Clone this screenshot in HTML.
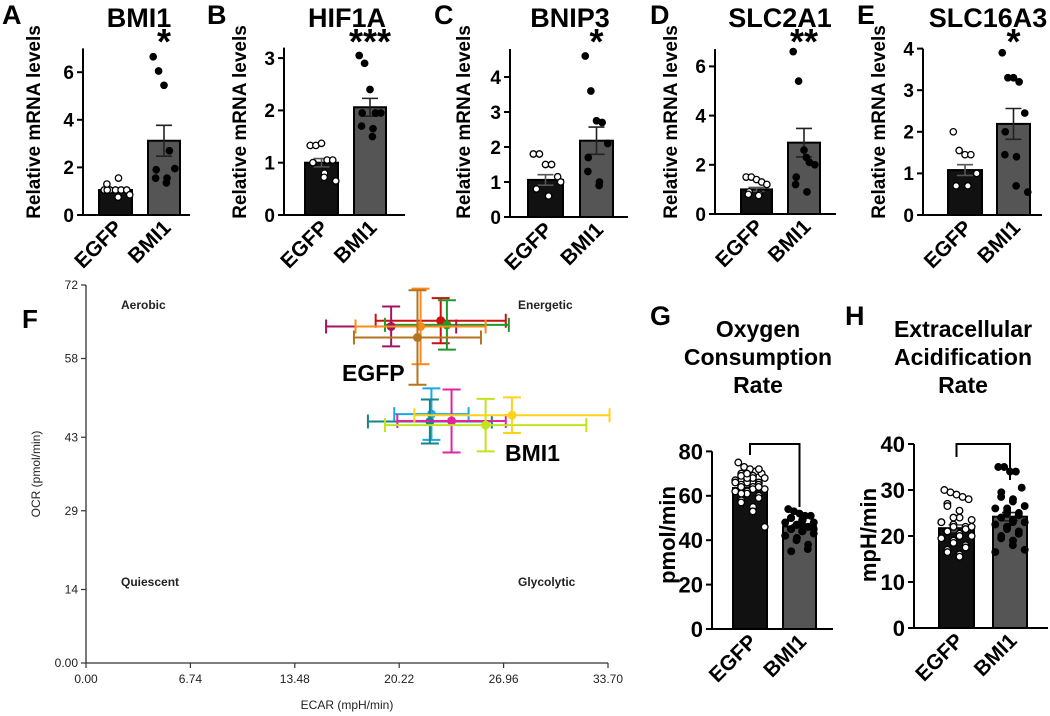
<!DOCTYPE html>
<html><head><meta charset="utf-8">
<style>
html,body{margin:0;padding:0;background:#fff;}
svg{display:block;font-family:"Liberation Sans",Arial,sans-serif;}
</style></head>
<body>
<svg id="fig" width="1050" height="716" viewBox="0 0 1050 716" xmlns="http://www.w3.org/2000/svg"></svg>
<script>
// ---------- Data: panels A-E ----------
const qpcrGroups = ["EGFP", "BMI1"];
const aMeans = [1.05, 3.12]; const aSem = [0.08, 0.65];
const aEGFP = [1.05,1.05,1.05,1.05,1.05,1.05,1.3,1.55,0.75,0.85];
const aBMI1 = [6.65,6.05,5.45,2.7,1.95,1.9,1.55,1.55,1.35];
const bMeans = [1.0, 2.06]; const bSem = [0.08, 0.17];
const bEGFP = [1.33,1.33,1.37,1.05,1.05,1.0,1.0,0.8,0.72,0.65];
const bBMI1 = [3.05,2.9,2.4,1.95,1.95,1.95,1.7,1.65,1.5];
const cMeans = [1.06, 2.18]; const cSem = [0.15, 0.39];
const cEGFP = [1.8,1.8,1.5,1.5,1.15,0.8,0.8,0.6,0.6,1.0];
const cBMI1 = [4.6,3.6,2.75,2.7,2.1,1.7,1.3,1.0,0.9];
const dMeans = [1.0, 2.9]; const dSem = [0.08, 0.58];
const dEGFP = [1.5,1.5,1.4,1.3,1.2,0.9,0.8,0.8,0.75];
const dBMI1 = [6.6,5.4,2.6,2.1,2.0,1.5,1.2,0.9,2.3];
const eMeans = [1.08, 2.19]; const eSem = [0.13, 0.37];
const eEGFP = [2.0,1.55,1.45,1.45,1.0,0.7,0.7,0.7,0.7];
const eBMI1 = [3.9,3.3,3.3,3.2,2.45,2.0,1.45,1.4,0.7,0.55];
const aTicks = [0,2,4,6]; const bTicks = [0,1,2,3]; const cTicks = [0,1,2,3,4];
const dTicks = [0,2,4,6]; const eTicks = [0,1,2,3,4];
// ---------- Data: panel F ----------
const fGroupLabels = ["EGFP","BMI1"];
const fECAR = [22.9,23.3,19.7,21.6,21.4, 22.3,22.2,23.6,25.8,27.5];
const fOCR  = [65.2,64.4,64.1,64.1,62.0, 47.4,46.0,46.1,45.3,47.2];
const fECARerr = [4.2,4.0,4.2,4.2,4.1, 2.4,4.0,3.5,6.5,6.3];
const fOCRerr  = [4.3,4.7,3.8,7.2,9.0, 4.9,4.2,6.0,5.0,3.4];
const fXTicks = ["0.00","6.74","13.48","20.22","26.96","33.70"];
const fYTicks = ["0.00","14","29","43","58","72"];
// ---------- Data: panels G, H ----------
const gMeans = [63.5, 46.2]; const gSem = [0.9, 0.8];
const gEGFP = [75,73,72,71,70,70,69,69,68,68,67,67,66,66,65,65,64,64,63,63,62,62,61,60,59,58,57,55,53,46,66,68,70,72,64,61];
const gBMI1 = [54,53,52,51,51,50,50,49,49,48,48,47,47,46,46,45,45,44,44,43,42,41,40,38,36,35,50,49,47,45];
const hMeans = [21.7, 24.2]; const hSem = [0.7, 0.9];
const hEGFP = [30,29.5,29,28.5,28,27,26.5,25.5,24,23.5,23,22.5,22,22,21.5,21,21,20.5,20,20,19.5,19,18.5,18,17.5,17,16.5,16,15.5,22,23,24];
const hBMI1 = [35,35,34,34,30.5,29.5,28.5,28,27.5,26.5,26,25.5,25,25,24.5,24,24,23.5,23,23,22.5,22,21.5,21,20.5,20,19.5,19,18,17,16.5,26,22];
const gTicks = [0,20,40,60,80]; const hTicks = [0,10,20,30,40];

const NS = "http://www.w3.org/2000/svg";
const svg = document.getElementById("fig");
function mk(tag, attrs, parent){
  const e = document.createElementNS(NS, tag);
  for (const k in attrs) e.setAttribute(k, attrs[k]);
  (parent||svg).appendChild(e);
  return e;
}
function txt(s, attrs, parent){ const e = mk("text", attrs, parent); e.textContent = s; return e; }

function barPanel(cfg){
  const g = mk("g", {});
  
  
  const ax = cfg.axisX, base = cfg.base;
  const y = v => base - v*cfg.unit;
  if (cfg.letter){
    const l = txt(cfg.letter, {x:cfg.letterX, y:cfg.letterY, "font-size":27, "font-weight":"bold"}, g);
    
    
  }
  cfg.title.forEach((t,i)=>{
    const tt = txt(t, {x:cfg.titleX, y:cfg.titleY + i*28, "font-size":cfg.titleSize, "font-weight":"bold", "text-anchor":"middle"}, g);
    
    
  });
  const yl = txt(cfg.yLabel, {x:0, y:0, "font-size":cfg.yLabelSize, "font-weight":"bold", "text-anchor":"middle",
    transform:`translate(${cfg.yLabelX},${cfg.yLabelY}) rotate(-90)`}, g);
  
  
  const topV = cfg.axisTop;
  const yax = mk("line", {x1:ax, y1:y(topV), x2:ax, y2:base, stroke:"#000","stroke-width":2}, g);
  
  
  const xax = mk("line", {x1:ax, y1:base, x2:cfg.axisEnd, y2:base, stroke:"#000","stroke-width":2}, g);
  
  
  cfg.ticks.forEach(t=>{
    mk("line", {x1:ax-6, y1:y(t), x2:ax, y2:y(t), stroke:"#000","stroke-width":2}, g);
    const tl = txt(String(t), {x:ax-9, y:y(t)+cfg.tickSize*0.36, "font-size":cfg.tickSize, "font-weight":"bold", "text-anchor":"end"}, g);
    
    
  });
  const pts = [cfg.p0, cfg.p1];
  qpcrGroups.forEach((grp,i)=>{
    const [x0,x1] = cfg.bars[i];
    const cx = (x0+x1)/2;
    const b = mk("rect", {x:x0, y:y(cfg.means[i]), width:x1-x0, height:base-y(cfg.means[i]),
      fill: i===0 ? "#111" : "#555", stroke:"#000", "stroke-width":2}, g);
    
    
    const ec = i===0 ? "#555" : "#222";
    const eu = y(cfg.means[i]+cfg.sem[i]), ed = y(cfg.means[i]-cfg.sem[i]);
    const eb = mk("path", {d:`M${cx},${ed}V${eu}M${cx-8},${eu}H${cx+8}M${cx-8},${ed}H${cx+8}`, stroke:ec, "stroke-width":1.6, fill:"none"}, g);
    
    
    const arr = pts[i];
    arr.forEach((v,j)=>{
      const spread = (x1-x0)/2 - 4;
      const off = ((j%5)-2)/2 * spread * 0.9 + ((j>=5)? (j%2? 3:-3):0);
      const p = mk("circle", {cx:cx+off, cy:y(v), r:cfg.r, fill: i===0 ? "#fff" : "#000", stroke:"#000", "stroke-width":1.3}, g);
      
      
    });
    const xl = txt(grp, {x:0, y:0, "font-size":cfg.xLabelSize, "font-weight":"bold", "text-anchor":"end",
      transform:`translate(${cx+8},${base+14}) rotate(-45)`}, g);
    
    
  });
  if (cfg.star){
    const s = txt(cfg.star, {x:(cfg.bars[1][0]+cfg.bars[1][1])/2, y:cfg.starY, "font-size":36, "font-weight":"bold", "text-anchor":"middle"}, g);
    
    
  }
  if (cfg.bracket){
    const c0 = (cfg.bars[0][0]+cfg.bars[0][1])/2, c1 = (cfg.bars[1][0]+cfg.bars[1][1])/2;
    const br = mk("path", {d:`M${c0},${cfg.bracket[1]}V${cfg.bracket[0]}H${c1}V${cfg.bracket[2]}`, stroke:"#000","stroke-width":2, fill:"none"}, g);
    
    
  }
}

const common = {base:215, titleY:27, titleSize:27, yLabel:"Relative mRNA levels", yLabelSize:19, yLabelY:122, tickSize:19, xLabelSize:21, r:3.2, starY:54, letterY:24};
barPanel(Object.assign({}, common, {name:"panel-a-bmi1", letter:"A", letterX:2, title:["BMI1"], titleX:139, axisX:83, axisEnd:190, yLabelX:40,
  unit:23.8, axisTop:7, ticks:aTicks, means:aMeans, sem:aSem, p0:aEGFP, p1:aBMI1, bars:[[99,132],[148,180]], star:"*"}));
barPanel(Object.assign({}, common, {name:"panel-b-hif1a", letter:"B", letterX:207, title:["HIF1A"], titleX:347, axisX:284, axisEnd:405, yLabelX:246,
  unit:52.3, axisTop:3.2, ticks:bTicks, means:bMeans, sem:bSem, p0:bEGFP, p1:bBMI1, bars:[[305,338],[354,386]], star:"***"}));
barPanel(Object.assign({}, common, {name:"panel-c-bnip3", letter:"C", letterX:434, title:["BNIP3"], titleX:570, axisX:510, axisEnd:628, base:217, yLabelX:470,
  unit:35, axisTop:4.8, ticks:cTicks, means:cMeans, sem:cSem, p0:cEGFP, p1:cBMI1, bars:[[528,563],[580,613]], star:"*"}));
barPanel(Object.assign({}, common, {name:"panel-d-slc2a1", letter:"D", letterX:650, title:["SLC2A1"], titleX:780, axisX:715, axisEnd:836, base:214, yLabelX:677,
  unit:24.6, axisTop:6.7, ticks:dTicks, means:dMeans, sem:dSem, p0:dEGFP, p1:dBMI1, bars:[[741,772],[788,820]], star:"**"}));
barPanel(Object.assign({}, common, {name:"panel-e-slc16a3", letter:"E", letterX:857, title:["SLC16A3"], titleX:988, axisX:923, axisEnd:1042, base:215, yLabelX:885,
  unit:41.6, axisTop:4, ticks:eTicks, means:eMeans, sem:eSem, p0:eEGFP, p1:eBMI1, bars:[[948,982],[997,1030]], star:"*"}));

const gh = {titleY:337, titleSize:23, yLabelSize:22, yLabelY:535, tickSize:22, xLabelSize:21, r:3.3, letterY:325};
barPanel(Object.assign({}, gh, {name:"panel-g-ocr", letter:"G", letterX:650, title:["Oxygen","Consumption","Rate"], titleX:758, axisX:712, axisEnd:833, base:629, yLabelX:675,
  yLabel:"pmol/min", unit:2.22, axisTop:80, ticks:gTicks, means:gMeans, sem:gSem, p0:gEGFP, p1:gBMI1, bars:[[733,767],[783,816]], bracket:[444,455,507]}));
barPanel(Object.assign({}, gh, {name:"panel-h-ecar", letter:"H", letterX:845, title:["Extracellular","Acidification","Rate"], titleX:963, axisX:914, axisEnd:1048, base:628, yLabelX:876,
  yLabel:"mpH/min", unit:4.6, axisTop:40, ticks:hTicks, means:hMeans, sem:hSem, p0:hEGFP, p1:hBMI1, bars:[[939,974],[993,1027]], bracket:[444,457,480]}));

// ---------- Panel F ----------
(function(){
  const g = mk("g", {});
  
  
  const X0 = 86, X1 = 608, Y0 = 663, Y1 = 285, xMax = 33.70, yMax = 72;
  const xs = v => X0 + v/xMax*(X1-X0);
  const ys = v => Y0 - v/yMax*(Y0-Y1);
  const fl = txt("F", {x:22, y:328, "font-size":26, "font-weight":"bold"}, g);
  
  
  const axl = mk("path", {d:`M${X0},${Y1}V${Y0}H${X1}`, stroke:"#333","stroke-width":1.3, fill:"none"}, g);
  
  
  fXTicks.forEach(t=>{
    const px = xs(parseFloat(t));
    mk("line", {x1:px, y1:Y0, x2:px, y2:Y0+5, stroke:"#333","stroke-width":1.2}, g);
    const l = txt(t, {x:px, y:683, "font-size":12, "text-anchor":"middle", fill:"#222"}, g);
    
    
  });
  fYTicks.forEach(t=>{
    const py = ys(parseFloat(t));
    mk("line", {x1:X0-5, y1:py, x2:X0, y2:py, stroke:"#333","stroke-width":1.2}, g);
    const l = txt(t, {x:X0-8, y:py+4, "font-size":12, "text-anchor":"end", fill:"#222"}, g);
    
    
  });
  const xt = txt("ECAR (mpH/min)", {x:347, y:709, "font-size":12, "text-anchor":"middle", fill:"#222"}, g);
  
  
  const yt = txt("OCR (pmol/min)", {x:0, y:0, "font-size":12, "text-anchor":"middle", fill:"#222", transform:"translate(40,474) rotate(-90)"}, g);
  
  
  [["Aerobic",121,309,"start"],["Energetic",518,309,"start"],["Quiescent",121,586,"start"],["Glycolytic",518,586,"start"]].forEach(q=>{
    const l = txt(q[0], {x:q[1], y:q[2], "font-size":12, "font-weight":"bold", "text-anchor":q[3], fill:"#222"}, g);
    
    
  });
  const colors = ["#cc1111","#1f9a2a","#a3145e","#ff8a1c","#b5741f","#1aa7f0","#168684","#e0259f","#c2e31e","#ffd21c"];
  fECAR.forEach((v,i)=>{
    const cx = xs(v), cy = ys(fOCR[i]);
    const xl = xs(v-fECARerr[i]), xr = xs(v+fECARerr[i]);
    const yu = ys(fOCR[i]+fOCRerr[i]), yd = ys(fOCR[i]-fOCRerr[i]);
    const c = colors[i];
    const eb = mk("path", {d:`M${xl},${cy}H${xr}M${xl},${cy-7}V${cy+7}M${xr},${cy-7}V${cy+7}M${cx},${yu}V${yd}M${cx-9},${yu}H${cx+9}M${cx-9},${yd}H${cx+9}`,
      stroke:c, "stroke-width":2, fill:"none"}, g);
    
    
    const p = mk("circle", {cx:cx, cy:cy, r:4.5, fill:c}, g);
    
    
  });
  const l1 = txt(fGroupLabels[0], {x:342, y:381, "font-size":23, "font-weight":"bold"}, g);
  
  
  const l2 = txt(fGroupLabels[1], {x:505, y:461, "font-size":23, "font-weight":"bold"}, g);
  
  
})();
</script>
</body></html>
